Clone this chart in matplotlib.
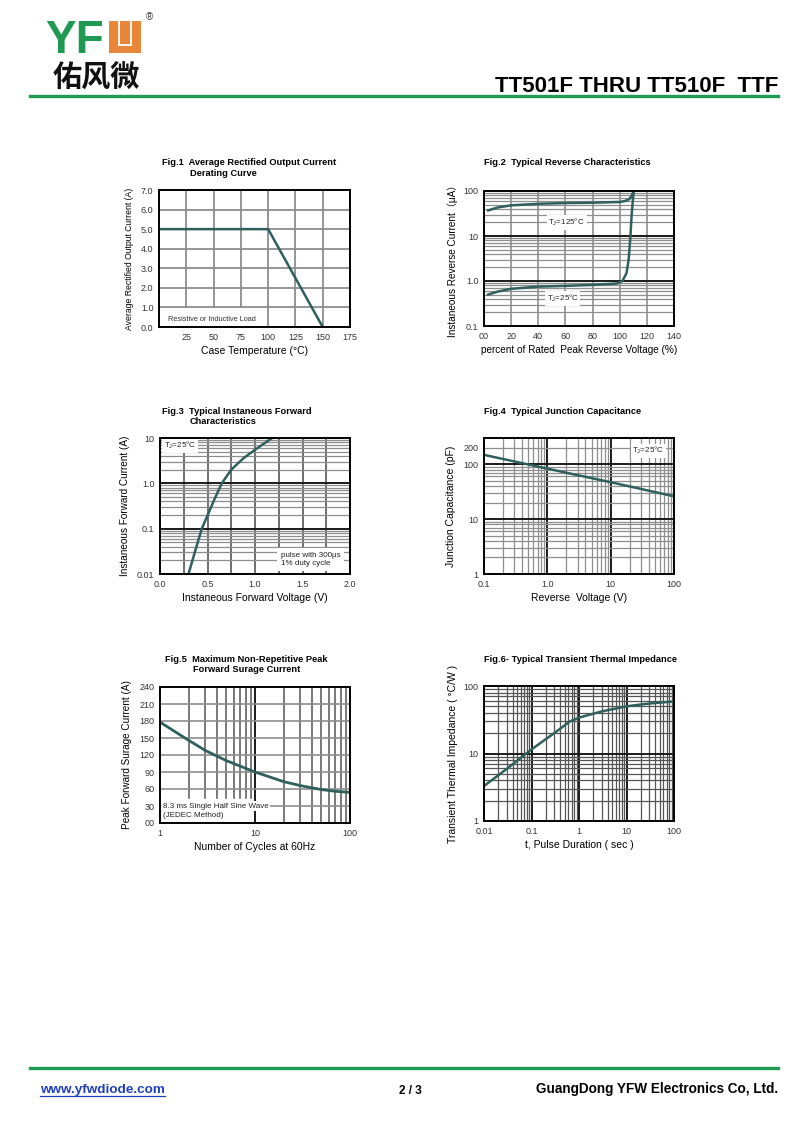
import matplotlib
matplotlib.use("Agg")
import matplotlib.pyplot as plt
import numpy as np
from matplotlib.lines import Line2D
from matplotlib.patches import Rectangle

# ---- data ----
fig1_temp = [0, 100, 150]
fig1_current = [5.0, 5.0, 0.0]

fig2_pct_125 = [3, 10, 20, 40, 60, 80, 100, 104, 107, 109, 110.3]
fig2_ir_125 = [37, 43, 48, 52, 54, 55, 57, 60, 66, 80, 100]
fig2_pct_25 = [3, 10, 20, 40, 60, 80, 98, 102, 105, 106.6, 107.9, 108.8, 110.3]
fig2_ir_25 = [0.5, 0.58, 0.67, 0.75, 0.78, 0.82, 0.88, 1.0, 1.5, 3, 10, 30, 100]

fig3_vf = [0.30, 0.37, 0.44, 0.57, 0.65, 0.75, 0.88, 1.00, 1.18]
fig3_if = [0.01, 0.032, 0.1, 0.43, 1.0, 2.0, 3.6, 5.5, 10]

fig4_vr = [0.1, 1, 10, 100]
fig4_cj = [148, 83, 47, 26]

fig5_cycles = [1, 2, 3, 5, 10, 20, 30, 50, 70, 100]
fig5_ifsm = [178, 146, 128, 110, 90, 73, 66, 59, 56, 54]

fig6_t = [0.01, 0.03, 0.1, 0.3, 0.65, 1, 3, 10, 30, 100]
fig6_z = [3.3, 5.9, 11.5, 20, 30, 34, 42, 50, 55, 59]

plt.rcParams["font.family"] = ["Liberation Sans", "Noto Sans CJK SC", "DejaVu Sans"]
plt.rcParams["mathtext.fontset"] = "custom"
plt.rcParams["mathtext.rm"] = "Liberation Sans"
plt.rcParams["mathtext.it"] = "Liberation Sans:italic"

CURVE = "#2f605d"
MINOR = "#8e8e8e"
MAJOR = "#1a1a1a"
GREEN = "#1f9a52"

fig = plt.figure(figsize=(8, 11.3), dpi=100)


def fx(x):
    return x / 800.0


def fy(y):
    return 1 - y / 1130.0


def box(l, t, r, b):
    return [fx(l), fy(b), fx(r) - fx(l), fy(t) - fy(b)]


def log_lines(lo, hi):
    minors, majors = [], []
    for e in range(int(np.floor(np.log10(lo))), int(np.ceil(np.log10(hi))) + 1):
        for m in range(1, 10):
            v = m * 10.0 ** e
            if lo * 1.0001 < v < hi * 0.9999:
                if m == 1:
                    majors.append(v)
                else:
                    minors.append(v)
    return minors, majors


def setup(ax):
    ax.tick_params(length=0, labelsize=6.5, labelcolor="#333333", pad=4)
    for s in ax.spines.values():
        s.set_linewidth(1.4)
        s.set_zorder(5)


def label(ax, s, x, y, **kw):
    ax.text(x, y, s, fontsize=5.8, color="#222222", zorder=4,
            bbox=dict(facecolor="white", edgecolor="none", pad=1.2), **kw)


TJ = r"T$_{\mathrm{J}}$"

# ---------- Fig.1 ----------
ax1 = fig.add_axes(box(159, 190, 350, 327))
setup(ax1)
ax1.set_xlim(0, 175)
ax1.set_ylim(0, 7)
for v in [25, 50, 75]:
    ax1.axvline(v, ymin=1 / 7, color=MINOR, lw=1.3, zorder=1)
for v in [100, 125, 150]:
    ax1.axvline(v, color=MINOR, lw=1.3, zorder=1)
for v in range(1, 7):
    ax1.axhline(v, color=MINOR, lw=1.3, zorder=1)
ax1.plot(fig1_temp, fig1_current, color=CURVE, lw=1.8, zorder=3)
ax1.set_xticks([25, 50, 75, 100, 125, 150, 175])
ax1.set_yticks(np.arange(0, 8))
ax1.set_yticklabels(["0.0", "1.0", "2.0", "3.0", "4.0", "5.0", "6.0", "7.0"])
ax1.text(8, 0.38, "Resistive or Inductive Load", fontsize=5.3, color="#333333", va="center")
ax1.set_xlabel("Case Temperature (°C)", fontsize=7.5, labelpad=3.5)
ax1.set_ylabel("Average Rectified Output Current (A)", fontsize=6.2, labelpad=5)

# ---------- Fig.2 ----------
ax2 = fig.add_axes(box(484, 191, 674, 326))
setup(ax2)
ax2.set_yscale("log")
ax2.set_xlim(0, 140)
ax2.set_ylim(0.1, 100)
for v in range(20, 140, 20):
    ax2.axvline(v, color=MINOR, lw=1.2, zorder=1)
mn, mj = log_lines(0.1, 100)
for v in mn:
    ax2.axhline(v, color=MINOR, lw=0.9, zorder=1)
for v in mj:
    ax2.axhline(v, color=MAJOR, lw=1.4, zorder=1)
ax2.plot(fig2_pct_125, fig2_ir_125, color=CURVE, lw=1.8, zorder=3)
ax2.plot(fig2_pct_25, fig2_ir_25, color=CURVE, lw=1.8, zorder=3)
ax2.set_xticks(range(0, 160, 20))
ax2.set_xticklabels(["00", "20", "40", "60", "80", "100", "120", "140"])
ax2.set_yticks([0.1, 1, 10, 100])
ax2.set_yticklabels(["0.1", "1.0", "10", "100"])
ax2.minorticks_off()
label(ax2, TJ + "=125°C", 61, 20, ha="center", va="center")
label(ax2, TJ + "=25°C", 58, 0.41, ha="center", va="center")
ax2.set_xlabel("percent of Rated  Peak Reverse Voltage (%)", fontsize=7.2, labelpad=3.5)
ax2.set_ylabel("Instaneous Reverse Current（μA）", fontsize=7.2, labelpad=4)

# ---------- Fig.3 ----------
ax3 = fig.add_axes(box(160, 438, 350, 574))
setup(ax3)
ax3.set_yscale("log")
ax3.set_xlim(0, 2.0)
ax3.set_ylim(0.01, 10)
for v in np.arange(0.25, 2.0, 0.25):
    ax3.axvline(v, color="#555555", lw=1.2, zorder=1)
mn, mj = log_lines(0.01, 10)
for v in mn:
    ax3.axhline(v, color=MINOR, lw=0.9, zorder=1)
for v in mj:
    ax3.axhline(v, color=MAJOR, lw=1.4, zorder=1)
ax3.plot(fig3_vf, fig3_if, color=CURVE, lw=1.8, zorder=3)
ax3.set_xticks([0, 0.5, 1.0, 1.5, 2.0])
ax3.set_xticklabels(["0.0", "0.5", "1.0", "1.5", "2.0"])
ax3.set_yticks([0.01, 0.1, 1, 10])
ax3.set_yticklabels(["0.01", "0.1", "1.0", "10"])
ax3.minorticks_off()
label(ax3, TJ + "=25°C", 0.04, 6.8, ha="left", va="center")
ax3.text(1.27, 0.021, "pulse with 300μs\n1% duty cycle", fontsize=5.8, color="#222222",
         ha="left", va="center", linespacing=1.3, zorder=4,
         bbox=dict(facecolor="white", edgecolor="none", pad=2.5))
ax3.set_xlabel("Instaneous Forward Voltage (V)", fontsize=7.5, labelpad=3.5)
ax3.set_ylabel("Instaneous Forward Current (A)", fontsize=7.2, labelpad=5)

# ---------- Fig.4 ----------
ax4 = fig.add_axes(box(484, 438, 674, 574))
setup(ax4)
ax4.set_xscale("log")
ax4.set_yscale("log")
ax4.set_xlim(0.1, 100)
ax4.set_ylim(1, 300)
mn, mj = log_lines(0.1, 100)
for v in mn:
    ax4.axvline(v, color=MINOR, lw=0.9, zorder=1)
for v in mj:
    ax4.axvline(v, color=MAJOR, lw=1.4, zorder=1)
mn, mj = log_lines(1, 300)
for v in mn:
    ax4.axhline(v, color=MINOR, lw=0.9, zorder=1)
for v in mj:
    ax4.axhline(v, color=MAJOR, lw=1.4, zorder=1)
ax4.plot(fig4_vr, fig4_cj, color=CURVE, lw=1.8, zorder=3)
ax4.set_xticks([0.1, 1, 10, 100])
ax4.set_xticklabels(["0.1", "1.0", "10", "100"])
ax4.set_yticks([1, 10, 100, 200])
ax4.set_yticklabels(["1", "10", "100", "200"])
ax4.minorticks_off()
label(ax4, TJ + "=25°C", 22, 175, ha="left", va="center")
ax4.set_xlabel("Reverse  Voltage (V)", fontsize=7.5, labelpad=3.5)
ax4.set_ylabel("Junction Capacitance (pF)", fontsize=7.5, labelpad=5)

# ---------- Fig.5 ----------
ax5 = fig.add_axes(box(160, 687, 350, 823))
setup(ax5)
ax5.set_xscale("log")
ax5.set_xlim(1, 100)
ax5.set_ylim(0, 240)
mn, mj = log_lines(1, 100)
for v in mn:
    if v < 10:
        ax5.axvline(v, ymin=45 / 240, color="#555555", lw=1.1, zorder=1)
    else:
        ax5.axvline(v, color="#555555", lw=1.1, zorder=1)
for v in mj:
    ax5.axvline(v, color=MAJOR, lw=1.4, zorder=1)
for v in range(30, 240, 30):
    ax5.axhline(v, color=MINOR, lw=1.2, zorder=1)
ax5.plot(fig5_cycles, fig5_ifsm, color=CURVE, lw=2.0, zorder=3)
ax5.set_xticks([1, 10, 100])
ax5.set_xticklabels(["1", "10", "100"])
ax5.set_yticks(range(0, 270, 30))
ax5.set_yticklabels(["00"] + [str(v) for v in range(30, 270, 30)])
ax5.minorticks_off()
label(ax5, "8.3 ms Single Half Sine Wave", 1.07, 30, ha="left", va="center")
label(ax5, "(JEDEC Method)", 1.07, 14, ha="left", va="center")
ax5.set_xlabel("Number of Cycles at 60Hz", fontsize=7.5, labelpad=3.5)
ax5.set_ylabel("Peak Forward Surage Current (A)", fontsize=7.2, labelpad=5)

# ---------- Fig.6 ----------
ax6 = fig.add_axes(box(484, 686, 674, 821))
setup(ax6)
ax6.set_xscale("log")
ax6.set_yscale("log")
ax6.set_xlim(0.01, 100)
ax6.set_ylim(1, 100)
mn, mj = log_lines(0.01, 100)
for v in mn:
    ax6.axvline(v, color="#555555", lw=0.9, zorder=1)
for v in mj:
    ax6.axvline(v, color=MAJOR, lw=1.4, zorder=1)
mn, mj = log_lines(1, 100)
for v in mn:
    ax6.axhline(v, color="#555555", lw=0.9, zorder=1)
for v in mj:
    ax6.axhline(v, color=MAJOR, lw=1.4, zorder=1)
ax6.plot(fig6_t, fig6_z, color=CURVE, lw=1.8, zorder=3)
ax6.set_xticks([0.01, 0.1, 1, 10, 100])
ax6.set_xticklabels(["0.01", "0.1", "1", "10", "100"])
ax6.set_yticks([1, 10, 100])
ax6.set_yticklabels(["1", "10", "100"])
ax6.minorticks_off()
ax6.set_xlabel("t, Pulse Duration ( sec )", fontsize=7.5, labelpad=3.5)
ax6.set_ylabel("Transient Thermal Impedance ( °C/W )", fontsize=7.5, labelpad=4)

# ---------- figure titles ----------
tk = dict(fontsize=6.7, fontweight="bold", va="center", ha="left")
fig.text(fx(162), fy(163), "Fig.1  Average Rectified Output Current", **tk)
fig.text(fx(190), fy(174), "Derating Curve", **tk)
fig.text(fx(484), fy(163), "Fig.2  Typical Reverse Characteristics", **tk)
fig.text(fx(162), fy(411), "Fig.3  Typical Instaneous Forward", **tk)
fig.text(fx(190), fy(422), "Characteristics", **tk)
fig.text(fx(484), fy(411), "Fig.4  Typical Junction Capacitance", **tk)
fig.text(fx(165), fy(659), "Fig.5  Maximum Non-Repetitive Peak", **tk)
fig.text(fx(193), fy(670), "Forward Surage Current", **tk)
fig.text(fx(484), fy(659), "Fig.6- Typical Transient Thermal Impedance", **tk)

# ---------- header ----------
fig.text(fx(45), fy(53), "YF", fontsize=33, fontweight="bold", color=GREEN,
         ha="left", va="baseline")
fig.add_artist(Rectangle((fx(109), fy(53)), fx(32), fy(21) - fy(53),
                         facecolor="#e8873a", edgecolor="none"))
for xs, ys in [([119, 119], [21, 45]), ([131, 131], [21, 45]), ([119, 131], [45, 45])]:
    fig.add_artist(Line2D([fx(v) for v in xs], [fy(v) for v in ys], color="white", lw=1.3))
fig.text(fx(149), fy(17), "®", fontsize=7, color="#333333", ha="center", va="center")
fig.text(fx(53), fy(78), "佑风微", fontsize=21, fontweight="bold", color="#111111",
         family=["Noto Sans CJK SC"], ha="left", va="center")
fig.text(fx(778), fy(92), "TT501F THRU TT510F  TTF", fontsize=16, fontweight="bold",
         ha="right", va="baseline")
fig.add_artist(Line2D([fx(30), fx(778)], [fy(96), fy(96)], color=GREEN, lw=2.4))

# ---------- footer ----------
fig.add_artist(Line2D([fx(30), fx(778)], [fy(1068), fy(1068)], color=GREEN, lw=2.4))
fig.text(fx(40), fy(1093), "www.yfwdiode.com", fontsize=9.7, fontweight="bold",
         color="#1f3fbf", ha="left", va="baseline")
fig.add_artist(Line2D([fx(40), fx(165)], [fy(1095.5), fy(1095.5)], color="#1f3fbf", lw=0.9))
fig.text(fx(410), fy(1094), "2 / 3", fontsize=8.5, fontweight="bold", ha="center", va="baseline")
fig.text(fx(778), fy(1093), "GuangDong YFW Electronics Co, Ltd.", fontsize=9.8,
         fontweight="bold", ha="right", va="baseline")

fig.savefig("out.png", dpi=100, facecolor="white")
